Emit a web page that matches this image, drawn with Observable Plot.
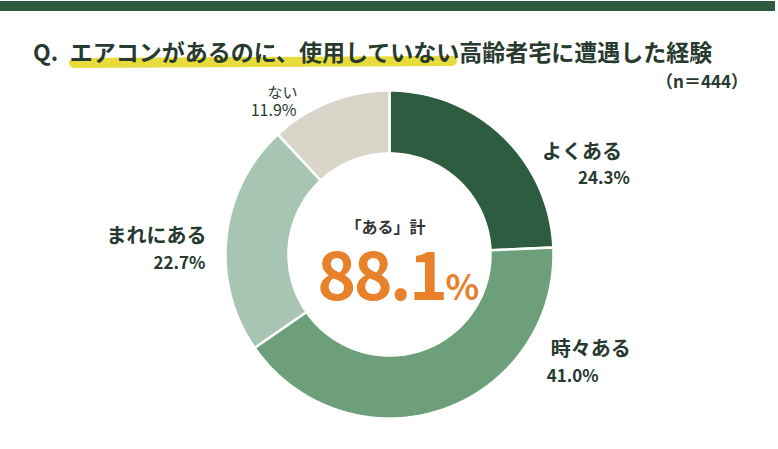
<!DOCTYPE html>
<html><head><meta charset="utf-8">
<script src="https://cdn.jsdelivr.net/npm/d3@7"></script>
<script src="https://cdn.jsdelivr.net/npm/@observablehq/plot@0.6"></script>
<style>
body{margin:0;background:#fff;font-family:"Noto Sans CJK JP","Noto Sans",sans-serif;}
#wrap{width:778px;height:449px;position:relative;overflow:hidden;background:#fff;}
#header{position:relative;height:80px;}
#bar{position:absolute;left:0;top:1px;width:775px;height:10px;background:#2e5a3e;}
#hl{position:absolute;left:69px;top:57px;width:388px;height:10px;background:#e8dc3c;border-radius:5px;transform:rotate(-0.3deg);}
#title{position:absolute;left:33px;top:38px;font-size:23px;font-weight:700;color:#283a2f;white-space:nowrap;line-height:1.2;}
#n{position:absolute;left:656px;top:71px;font-size:17px;font-weight:700;color:#283a2f;white-space:nowrap;line-height:1.2;z-index:2;}
#chart{position:relative;}
</style>
</head><body>
<div id="wrap">
  <div id="header">
    <div id="bar"></div>
    <div id="hl"></div>
    <div id="title"></div>
    <div id="n"></div>
  </div>
  <div id="chart"></div>
</div>
<script>
// ---- data ----
const categories = ["よくある", "時々ある", "まれにある", "ない"];
const values = [24.3, 41.0, 22.7, 11.9];
const colors = ["#2e5c40", "#6da07a", "#a7c5b2", "#d9d5c9"];
const titleText = "Q.\u2002エアコンがあるのに、使用していない高齢者宅に遭遇した経験";
const sampleText = "（n＝444）";
const totalLabel = "「ある」計";
const totalValue = 88.1;

// ---- layout (not data) ----
const W = 778, H = 369, CX = 389, CY = 174, R = 164, RI = 101;
const labelLayout = [
  {anchor: "start", ndx: 39, ndy: 23, pdx: 75, pdy: 48, nsize: 20, psize: 17, weight: 700},
  {anchor: "start", ndx: 109, ndy: -54, pdx: 105, pdy: -28, nsize: 20, psize: 17, weight: 700},
  {anchor: "end", ndx: -20, ndy: 6, pdx: -21, pdy: 32, nsize: 20, psize: 17, weight: 700},
  {anchor: "end", ndx: -32, ndy: -4, pdx: -33, pdy: 14, nsize: 15, psize: 16, weight: 400}
];

document.getElementById("title").textContent = titleText;
document.getElementById("n").textContent = sampleText;

const rows = categories.map((c, i) => ({key: c, value: values[i]}));
const arcs = d3.pie().sort(null).value(d => d.value).startAngle(0).endAngle(2 * Math.PI)(rows);
const inner = RI / R;
const pts = [];
for (const a of arcs) {
  const N = 160;
  const first = pts.length;
  for (let k = 0; k <= N; k++) {
    const t = a.startAngle + (a.endAngle - a.startAngle) * k / N;
    pts.push({key: a.data.key, x: Math.sin(t), y: Math.cos(t)});
  }
  for (let k = N; k >= 0; k--) {
    const t = a.startAngle + (a.endAngle - a.startAngle) * k / N;
    pts.push({key: a.data.key, x: inner * Math.sin(t), y: inner * Math.cos(t)});
  }
  pts.push({...pts[first]});
  pts.push({...pts[first + 1]});
}

const textColor = "#283a2f";
const marks = [
  Plot.line(pts, {x: "x", y: "y", z: "key", fill: "key", stroke: "white", strokeWidth: 2.5, strokeLinejoin: "miter", curve: "linear"})
];
arcs.forEach((a, i) => {
  const L = labelLayout[i];
  const m = (a.startAngle + a.endAngle) / 2;
  const anchor = [{x: Math.sin(m), y: Math.cos(m), name: a.data.key, pct: a.data.value.toFixed(1) + "%"}];
  marks.push(Plot.text(anchor, {x: "x", y: "y", text: "name", textAnchor: L.anchor, lineAnchor: "bottom", dx: L.ndx, dy: L.ndy, fontSize: L.nsize, fontWeight: L.weight, fill: textColor}));
  marks.push(Plot.text(anchor, {x: "x", y: "y", text: "pct", textAnchor: L.anchor, lineAnchor: "bottom", dx: L.pdx, dy: L.pdy, fontSize: L.psize, fontWeight: L.weight, fill: textColor}));
});
const center = [{x: 0, y: 0, label: totalLabel, num: totalValue.toFixed(1), unit: "%"}];
marks.push(Plot.text(center, {x: "x", y: "y", text: "label", textAnchor: "middle", lineAnchor: "bottom", dx: -4, dy: -22, fontSize: 16, fontWeight: 700, fill: "#333"}));
marks.push(Plot.text(center, {x: "x", y: "y", text: "num", textAnchor: "end", lineAnchor: "bottom", dx: 56, dy: 45, fontSize: 66, fontWeight: 700, fill: "#e8822a"}));
marks.push(Plot.text(center, {x: "x", y: "y", text: "unit", textAnchor: "start", lineAnchor: "bottom", dx: 56, dy: 45, fontSize: 35, fontWeight: 700, fill: "#e8822a"}));

const chart = Plot.plot({
  width: W, height: H, margin: 0,
  x: {domain: [-CX / R, (W - CX) / R], axis: null},
  y: {domain: [-(H - CY) / R, CY / R], axis: null},
  color: {domain: categories, range: colors},
  style: {background: "transparent", fontFamily: "'Noto Sans CJK JP', 'Noto Sans', sans-serif", overflow: "visible"},
  marks
});
d3.select(chart).selectAll("text").filter(function() { return this.textContent === center[0].num; }).style("letter-spacing", "-2.5px");
document.getElementById("chart").appendChild(chart);
</script>
</body></html>
